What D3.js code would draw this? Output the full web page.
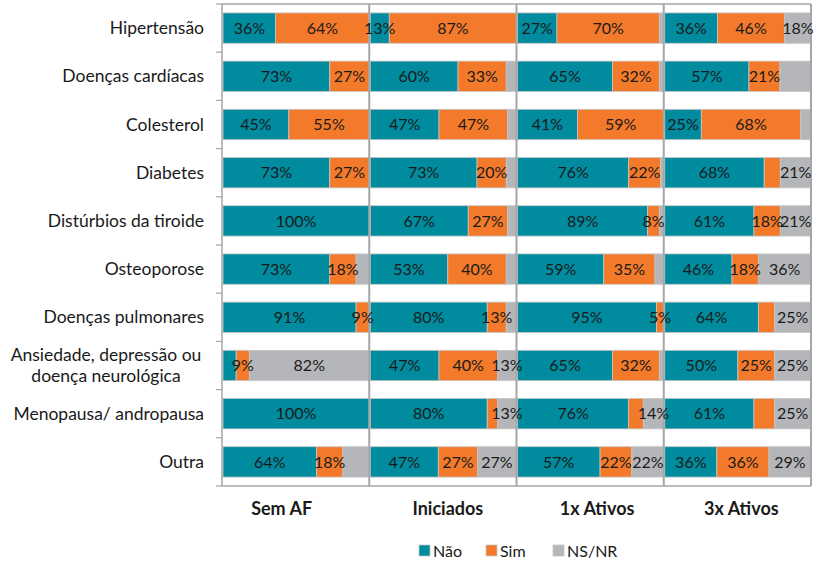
<!DOCTYPE html>
<html>
<head>
<meta charset="utf-8">
<script src="https://cdn.jsdelivr.net/npm/d3@7"></script>
<style>
  html, body { margin: 0; padding: 0; background: #fff; }
  svg { display: block; }
  text { font-family: Lato, "Open Sans", sans-serif; fill: #1a1a1a; }
</style>
</head>
<body>
<svg id="chart" width="817" height="564"></svg>
<script>
// ---------- DATA ----------
const categories = [
  "Hipertensão", "Doenças cardíacas", "Colesterol", "Diabetes",
  "Distúrbios da tiroide", "Osteoporose", "Doenças pulmonares",
  "Ansiedade, depressão ou\ndoença neurológica", "Menopausa/ andropausa", "Outra"
];
const groups = ["Sem AF", "Iniciados", "1x Ativos", "3x Ativos"];
const seriesNames = ["Não", "Sim", "NS/NR"];
const seriesColors = ["#008b9e", "#f27a2a", "#b4b6b9"];

const semAF_nao = [36, 73, 45, 73, 100, 73, 91, 9, 100, 64];
const semAF_sim = [64, 27, 55, 27, 0, 18, 9, 9, 0, 18];
const semAF_ns  = [0, 0, 0, 0, 0, 9, 0, 82, 0, 18];

const iniciados_nao = [13, 60, 47, 73, 67, 53, 80, 47, 80, 47];
const iniciados_sim = [87, 33, 47, 20, 27, 40, 13, 40, 7, 27];
const iniciados_ns  = [0, 7, 6, 7, 6, 7, 7, 13, 13, 27];

const ativos1x_nao = [27, 65, 41, 76, 89, 59, 95, 65, 76, 57];
const ativos1x_sim = [70, 32, 59, 22, 8, 35, 5, 32, 10, 22];
const ativos1x_ns  = [3, 3, 0, 2, 3, 6, 0, 3, 14, 22];

const ativos3x_nao = [36, 57, 25, 68, 61, 46, 64, 50, 61, 36];
const ativos3x_sim = [46, 21, 68, 11, 18, 18, 11, 25, 14, 36];
const ativos3x_ns  = [18, 21, 7, 21, 21, 36, 25, 25, 25, 29];

// segments whose data label is not shown in the original (group|categoryIndex|series)
const hiddenLabels = [
  "Sem AF|5|NS/NR", "Sem AF|7|Não", "Sem AF|9|NS/NR",
  "Iniciados|1|NS/NR", "Iniciados|2|NS/NR", "Iniciados|3|NS/NR", "Iniciados|4|NS/NR",
  "Iniciados|5|NS/NR", "Iniciados|6|NS/NR", "Iniciados|8|Sim",
  "1x Ativos|0|NS/NR", "1x Ativos|1|NS/NR", "1x Ativos|3|NS/NR", "1x Ativos|4|NS/NR",
  "1x Ativos|5|NS/NR", "1x Ativos|7|NS/NR", "1x Ativos|8|Sim",
  "3x Ativos|1|NS/NR", "3x Ativos|2|NS/NR", "3x Ativos|3|Sim",
  "3x Ativos|6|Sim", "3x Ativos|8|Sim"
];

const groupSeries = [
  [semAF_nao, semAF_sim, semAF_ns],
  [iniciados_nao, iniciados_sim, iniciados_ns],
  [ativos1x_nao, ativos1x_sim, ativos1x_ns],
  [ativos3x_nao, ativos3x_sim, ativos3x_ns]
];

// ---------- LAYOUT ----------
const svg = d3.select("#chart");
const plot = { left: 222, right: 811, top: 4, bottom: 486 };
const gridColor = "#a6a6a6";
const groupLabelShift = [-14, 5, 7, 4];

const y = d3.scaleBand()
  .domain(d3.range(categories.length))
  .range([plot.top, plot.bottom])
  .paddingInner(0.37)
  .paddingOuter(0.185);

const panelX = d3.scaleBand()
  .domain(groups)
  .range([plot.left, plot.right]);

const color = d3.scaleOrdinal().domain(seriesNames).range(seriesColors);

const barLayer = svg.append("g");
const frame = svg.append("g").attr("stroke", gridColor).attr("fill", "none");
const labelLayer = svg.append("g");

// ---------- PANELS ----------
groups.forEach((g, gi) => {
  const x0 = panelX(g);
  const x = d3.scaleLinear().domain([0, 1]).range([x0 + 1, x0 + panelX.bandwidth()]);
  const rows = categories.map((c, i) => {
    const o = { idx: i };
    seriesNames.forEach((s, si) => { o[s] = groupSeries[gi][si][i]; });
    return o;
  });
  const stacked = d3.stack().keys(seriesNames).offset(d3.stackOffsetExpand)(rows);

  stacked.forEach(layer => {
    const s = layer.key;
    barLayer.append("g").selectAll("rect")
      .data(layer.filter(d => d[1] - d[0] > 0))
      .join("rect")
      .attr("x", d => x(d[0]))
      .attr("width", d => x(d[1]) - x(d[0]))
      .attr("y", d => y(d.data.idx))
      .attr("height", y.bandwidth())
      .attr("fill", color(s))
      .attr("stroke", "#c6c6c6")
      .attr("stroke-width", 0.8);
  });
  stacked.forEach(layer => {
    const s = layer.key;
    labelLayer.append("g").selectAll("text")
      .data(layer.filter(d => d.data[s] > 0 && !hiddenLabels.includes(g + "|" + d.data.idx + "|" + s)))
      .join("text")
      .attr("x", d => (x(d[0]) + x(d[1])) / 2)
      .attr("y", d => y(d.data.idx) + y.bandwidth() / 2)
      .attr("dy", "0.36em")
      .attr("text-anchor", "middle")
      .style("font-size", "16px")
      .text(d => d.data[s] + "%");
  });

  // group label
  labelLayer.append("text")
    .attr("x", x0 + panelX.bandwidth() / 2 + groupLabelShift[gi])
    .attr("y", 509)
    .attr("dy", "0.35em")
    .attr("text-anchor", "middle")
    .style("font-size", "18px")
    .style("font-weight", "bold")
    .text(g);
});

// ---------- FRAME / GRID ----------
frame.append("line").attr("x1", plot.left).attr("x2", plot.right)
  .attr("y1", plot.top).attr("y2", plot.top).attr("stroke-width", 1.5);
frame.append("line").attr("x1", plot.left).attr("x2", plot.right)
  .attr("y1", plot.bottom).attr("y2", plot.bottom).attr("stroke-width", 1.5);
groups.forEach(g => {
  const xr = panelX(g) + panelX.bandwidth();
  frame.append("line").attr("x1", xr).attr("x2", xr)
    .attr("y1", plot.top).attr("y2", plot.bottom).attr("stroke-width", 2);
});

// left category axis
const boundaries = d3.range(categories.length + 1).map(i => plot.top + i * (plot.bottom - plot.top) / categories.length);
frame.append("line").attr("x1", plot.left).attr("x2", plot.left)
  .attr("y1", plot.top).attr("y2", plot.bottom).attr("stroke-width", 1.5);
frame.selectAll("line.tick").data(boundaries).join("line")
  .attr("class", "tick")
  .attr("x1", plot.left - 6).attr("x2", plot.left)
  .attr("y1", d => d).attr("y2", d => d).attr("stroke-width", 1.2);

// category labels
const catG = svg.append("g");
categories.forEach((c, i) => {
  const lines = c.split("\n");
  const cy = y(i) + y.bandwidth() / 2;
  const t = catG.append("text")
    .attr("x", 204)
    .attr("y", cy)
    .attr("text-anchor", "end")
    .style("font-size", "17.5px");
  if (lines.length === 1) {
    t.attr("dy", "0.35em").text(c);
  } else {
    t.attr("text-anchor", "middle").attr("x", 106);
    lines.forEach((ln, li) => {
      t.append("tspan")
        .attr("x", 106)
        .attr("y", cy + (li - (lines.length - 1) / 2) * 21)
        .attr("dy", "0.35em")
        .text(ln);
    });
  }
});

// ---------- LEGEND ----------
const legendX = [419, 486, 553];
const legend = svg.append("g");
seriesNames.forEach((s, i) => {
  legend.append("rect")
    .attr("x", legendX[i]).attr("y", 545)
    .attr("width", 11).attr("height", 11)
    .attr("fill", color(s))
    .attr("stroke", "#c6c6c6").attr("stroke-width", 0.8);
  legend.append("text")
    .attr("x", legendX[i] + 14).attr("y", 551)
    .attr("dy", "0.35em")
    .style("font-size", "16px")
    .text(s);
});
</script>
</body>
</html>
